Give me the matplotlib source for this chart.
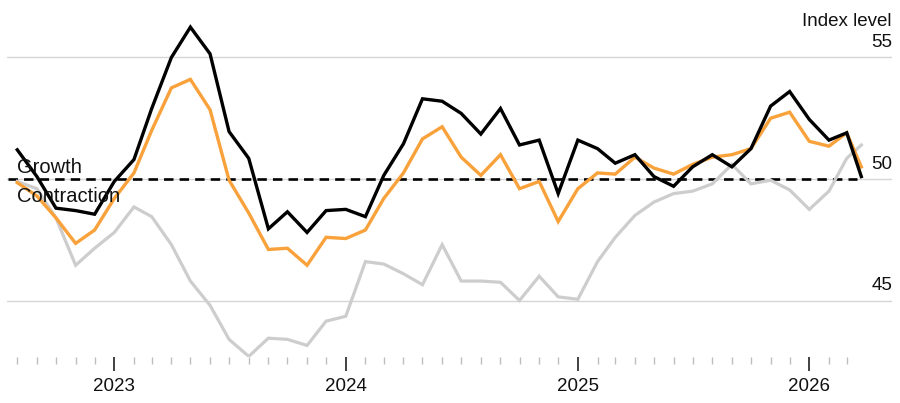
import matplotlib
matplotlib.use("Agg")
import matplotlib.pyplot as plt
import matplotlib.dates as mdates
import pandas as pd

# monthly readings Aug 2022 - Mar 2026, plus the latest flash reading
dates = list(pd.date_range("2022-08-01", "2026-03-01", freq="MS")) + [pd.Timestamp("2026-03-24")]

black_vals = [51.2, 50.1, 48.8, 48.7, 48.55,
              49.9, 50.8, 52.9, 55.0, 56.25, 55.15, 51.95, 50.85, 47.95, 48.65, 47.8, 48.7,
              48.75, 48.45, 50.15, 51.45, 53.3, 53.2, 52.7, 51.85, 52.9, 51.4, 51.6, 49.4,
              51.6, 51.25, 50.65, 51.0, 50.1, 49.7, 50.5, 51.0, 50.5, 51.25, 53.0, 53.6,
              52.45, 51.6, 51.9, 50.1]
orange_vals = [49.85, 49.3, 48.4, 47.35, 47.9,
               49.2, 50.25, 52.0, 53.75, 54.1, 52.85, 49.95, 48.6, 47.1, 47.15, 46.45, 47.6,
               47.55, 47.9, 49.2, 50.25, 51.65, 52.15, 50.9, 50.15, 51.0, 49.6, 49.9, 48.25,
               49.6, 50.25, 50.2, 50.9, 50.45, 50.2, 50.6, 50.9, 51.0, 51.25, 52.5, 52.75,
               51.55, 51.35, 51.9, 50.5]
gray_vals = [49.9, 49.6, 48.4, 46.45, 47.15,
             47.8, 48.85, 48.45, 47.3, 45.8, 44.8, 43.4, 42.7, 43.45, 43.4, 43.15, 44.15,
             44.35, 46.6, 46.5, 46.1, 45.65, 47.3, 45.8, 45.8, 45.75, 45.0, 46.0, 45.15,
             45.05, 46.6, 47.6, 48.5, 49.05, 49.4, 49.5, 49.8, 50.6, 49.8, 49.95, 49.55,
             48.75, 49.5, 50.85, 51.4]

y_ticks = [45, 50, 55]
threshold = 50

BLACK = "#000000"
ORANGE = "#f9a13a"
GRAY = "#cdcdcd"
TEXT = "#111111"

plt.rcParams["font.family"] = ["Liberation Sans", "DejaVu Sans"]
plt.rcParams["lines.scale_dashes"] = False

fig = plt.figure(figsize=(9, 4.03), dpi=100)
ax = fig.add_axes([7 / 900, 1 - 357 / 403, 885 / 900, 337 / 403])

x = mdates.date2num(dates)
x0 = mdates.date2num(pd.Timestamp("2023-01-01"))
x1 = mdates.date2num(pd.Timestamp("2026-01-01"))
ax.set_xlim(x0 - 169.2, x1 + 130.4)
ax.set_ylim(42.675, 56.543)

# gridlines and the 50 threshold
for v in y_ticks:
    ax.axhline(v, color="#d6d6d6", lw=1.0, zorder=1)
ax.plot([dates[0] - pd.Timedelta(days=15), dates[-1] - pd.Timedelta(days=7)], [threshold, threshold],
        color=BLACK, lw=1.9, linestyle=(0, (6.8, 4.4)), zorder=2)

ax.plot(x, gray_vals, color=GRAY, lw=2.3, zorder=3, solid_joinstyle="miter")
ax.plot(x, orange_vals, color=ORANGE, lw=2.4, zorder=4, solid_joinstyle="miter")
ax.plot(x, black_vals, color=BLACK, lw=2.4, zorder=5, solid_joinstyle="miter")

for s in ax.spines.values():
    s.set_visible(False)

ax.xaxis.set_major_locator(mdates.YearLocator())
ax.xaxis.set_major_formatter(mdates.DateFormatter("%Y"))
ax.tick_params(axis="x", which="major", length=10, width=1.3, color="#333333",
               labelsize=13.5, labelcolor=TEXT, pad=5)
ax.tick_params(axis="x", which="minor", length=5, width=1.0, color="#bdbdbd")
ax.set_xticks(mdates.date2num(pd.date_range("2022-08-01", "2026-03-01", freq="MS")), minor=True)
ax.set_yticks([])

# right-hand value labels
for v in y_ticks:
    ax.annotate(str(v), xy=(1, v), xycoords=("axes fraction", "data"),
                xytext=(0, 7.5), textcoords="offset points",
                ha="right", va="baseline", fontsize=13.5, color=TEXT)
fig.text(892 / 900, 1 - 26 / 403, "Index level", ha="right", va="baseline",
         fontsize=13.5, color=TEXT)

ax.annotate("Growth", xy=(dates[0], threshold), xytext=(0, 4.5), textcoords="offset points",
            ha="left", va="baseline", fontsize=14.5, color=TEXT, zorder=6)
ax.annotate("Contraction", xy=(dates[0], threshold), xytext=(0, -6), textcoords="offset points",
            ha="left", va="top", fontsize=14.5, color=TEXT, zorder=6)

fig.savefig("out.png", dpi=100)
